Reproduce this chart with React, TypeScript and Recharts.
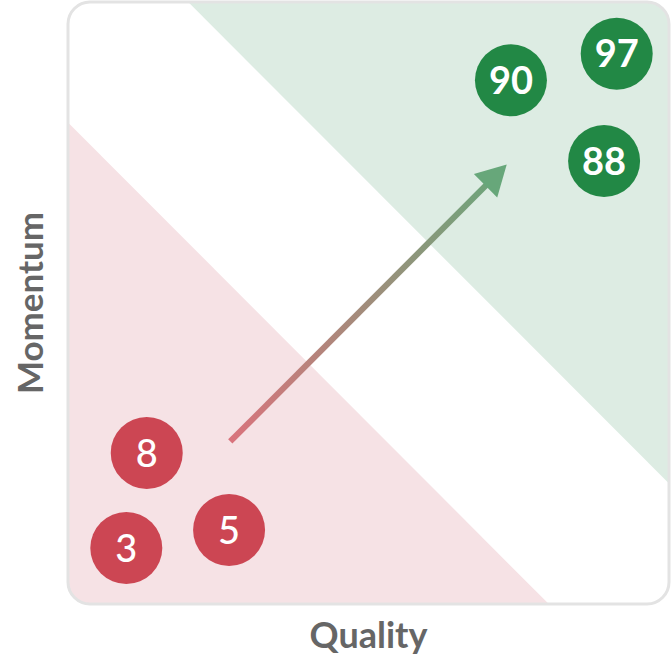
import { ReferenceArea, ReferenceLine, Scatter, ScatterChart, XAxis, YAxis } from 'recharts'

const redLabels = ['8', '3', '5']
const redQuality = [13.1, 9.7, 26.8]
const redMomentum = [25.1, 9.3, 12.3]

const greenLabels = ['90', '97', '88']
const greenQuality = [73.7, 91.3, 89.2]
const greenMomentum = [87.0, 91.4, 73.6]

// diagonal zones: quality + momentum < 80 is weak, > 120 is strong
const weakLimit = 80
const strongLimit = 20
const arrowFrom = { x: 27, y: 27 }
const arrowTo = { x: 73, y: 73 }

const redData = redLabels.map((label, i) => ({ label, quality: redQuality[i], momentum: redMomentum[i] }))
const greenData = greenLabels.map((label, i) => ({ label, quality: greenQuality[i], momentum: greenMomentum[i] }))

const FONT = 'Lato, "Noto Sans", sans-serif'

function bubble(fill: string, weight: number) {
  return (props: any) => (
    <g>
      <circle cx={props.cx} cy={props.cy} r={36} fill={fill} />
      <text
        x={props.cx}
        y={props.cy}
        dy="0.36em"
        textAnchor="middle"
        fill="#fff"
        fontSize={38}
        fontWeight={weight}
        fontFamily={FONT}
      >
        {props.payload.label}
      </text>
    </g>
  )
}

function PlotBackground(props: any) {
  const { x, y, width, height } = props
  return (
    <g>
      <defs>
        <clipPath id="plot-clip">
          <rect x={x} y={y} width={width} height={height} rx={22} ry={22} />
        </clipPath>
      </defs>
      <rect x={x} y={y} width={width} height={height} rx={22} ry={22} fill="#fff" />
    </g>
  )
}

function PlotBorder(props: any) {
  const { x, y, width, height } = props
  return <rect x={x} y={y} width={width} height={height} rx={22} ry={22} fill="none" stroke="#e3e3e3" strokeWidth={3} />
}

function WeakZone(props: any) {
  const { x, y, width, height } = props
  return (
    <polygon
      points={`${x},${y} ${x},${y + height} ${x + width},${y + height}`}
      fill="#f6e2e5"
      clipPath="url(#plot-clip)"
    />
  )
}

function StrongZone(props: any) {
  const { x, y, width, height } = props
  return (
    <polygon
      points={`${x},${y} ${x + width},${y} ${x + width},${y + height}`}
      fill="#ddece3"
      clipPath="url(#plot-clip)"
    />
  )
}

function Arrow(props: any) {
  const { x1, y1, x2, y2 } = props
  const len = Math.hypot(x2 - x1, y2 - y1)
  const ux = (x2 - x1) / len
  const uy = (y2 - y1) / len
  const headLen = 30
  const headHalf = 16.5
  const bx = x2 - ux * headLen
  const by = y2 - uy * headLen
  return (
    <g>
      <defs>
        <linearGradient id="arrow-grad" gradientUnits="userSpaceOnUse" x1={x1} y1={y1} x2={x2} y2={y2}>
          <stop offset="0%" stopColor="#d9737c" />
          <stop offset="100%" stopColor="#67a77a" />
        </linearGradient>
      </defs>
      <line x1={x1} y1={y1} x2={bx + ux * 2} y2={by + uy * 2} stroke="url(#arrow-grad)" strokeWidth={6} />
      <polygon
        points={`${x2},${y2} ${bx - uy * headHalf},${by + ux * headHalf} ${bx + uy * headHalf},${by - ux * headHalf}`}
        fill="#67a77a"
      />
    </g>
  )
}

export default function App() {
  return (
    <div style={{ position: 'absolute', left: 0, top: 0, width: 671, height: 663, background: '#fff' }}>
      <ScatterChart width={671} height={663} margin={{ top: 2, right: 2, bottom: 0, left: 0 }}>
        <XAxis
          type="number"
          dataKey="quality"
          domain={[0, 100]}
          tick={false}
          axisLine={false}
          tickLine={false}
          height={59}
          label={{ value: 'Quality', position: 'center', dy: 2, fill: '#666', fontSize: 36, fontWeight: 700, fontFamily: FONT }}
        />
        <YAxis
          type="number"
          dataKey="momentum"
          domain={[0, 100]}
          tick={false}
          axisLine={false}
          tickLine={false}
          width={68}
          label={{
            value: 'Momentum',
            position: 'center',
            angle: -90,
            dx: -3,
            fill: '#666',
            fontSize: 35,
            fontWeight: 700,
            fontFamily: FONT,
          }}
        />
        <ReferenceArea x1={0} x2={100} y1={0} y2={100} shape={PlotBackground} />
        <ReferenceArea x1={0} x2={weakLimit} y1={0} y2={weakLimit} shape={WeakZone} />
        <ReferenceArea x1={strongLimit} x2={100} y1={strongLimit} y2={100} shape={StrongZone} />
        <ReferenceArea x1={0} x2={100} y1={0} y2={100} shape={PlotBorder} />
        <ReferenceLine segment={[arrowFrom, arrowTo]} shape={Arrow} />
        <Scatter data={redData} shape={bubble('#cc4653', 500)} isAnimationActive={false} />
        <Scatter data={greenData} shape={bubble('#228845', 700)} isAnimationActive={false} />
      </ScatterChart>
    </div>
  )
}
